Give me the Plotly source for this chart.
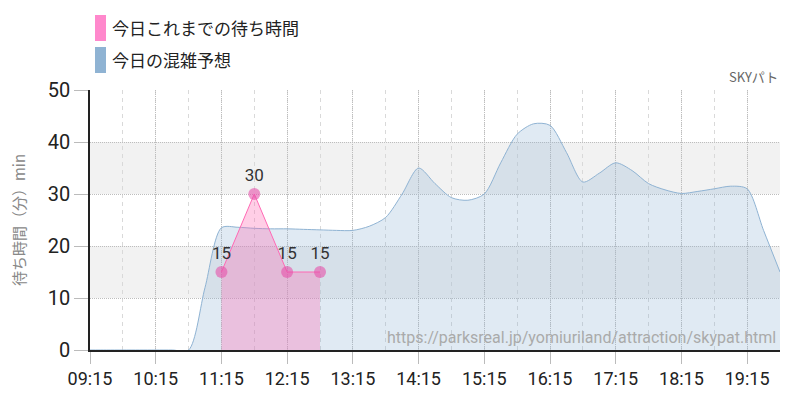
import plotly.graph_objects as go

DAY = "2024-01-01 "

# Forecast (blue) – 15-minute steps from 09:15 to 19:45
forecast_times = ["09:15", "09:30", "09:45", "10:00", "10:15", "10:30", "10:45", "11:00",
                  "11:15", "11:30", "11:45", "12:00", "12:15", "12:30", "12:45", "13:00",
                  "13:15", "13:30", "13:45", "14:00", "14:15", "14:30", "14:45", "15:00",
                  "15:15", "15:30", "15:45", "16:00", "16:15", "16:30", "16:45", "17:00",
                  "17:15", "17:30", "17:45", "18:00", "18:15", "18:30", "18:45", "19:00",
                  "19:15", "19:30", "19:45"]
forecast_values = [0, 0, 0, 0, 0, 0, 0, 12,
                   23.5, 23.6, 23.4, 23.3, 23.3, 23.2, 23.1, 23.0,
                   23.0, 23.8, 25.5, 30.0, 35.0, 32.0, 29.3, 28.8,
                   30.0, 36.0, 41.5, 43.5, 43.2, 38.0, 32.3, 34.0,
                   36.0, 34.5, 32.0, 30.8, 30.1, 30.5, 31.0, 31.5,
                   31.0, 23.0, 15.0]

# Actual wait times (pink)
actual_times = ["11:15", "11:45", "12:15", "12:45"]
actual_values = [15, 30, 15, 15]

y_ticks = [0, 10, 20, 30, 40, 50]
x_tick_labels = ["09:15", "10:15", "11:15", "12:15", "13:15", "14:15",
                 "15:15", "16:15", "17:15", "18:15", "19:15"]

legend_labels = ["今日これまでの待ち時間", "今日の混雑予想"]
legend_colors = ["#ff88cc", "#8fb3d3"]

NUM = "Roboto, sans-serif"
JP = "Noto Sans CJK JP, sans-serif"

# page has an 8px body margin; plot area wanted at page x 90..780, y 90..350
OFF = 8
L, T, PW, PH = 90 - OFF, 90 - OFF, 690, 260

fig = go.Figure()

fig.add_trace(go.Scatter(
    x=[DAY + t for t in forecast_times], y=forecast_values,
    mode="lines", line=dict(color="rgba(143,179,211,1)", width=1, shape="spline", smoothing=0.8),
    fill="tozeroy", fillcolor="rgba(143,179,211,0.28)", hoverinfo="skip", showlegend=False))

fig.add_trace(go.Scatter(
    x=[DAY + t for t in actual_times], y=actual_values,
    mode="lines+markers+text",
    line=dict(color="#ff69b4", width=1),
    fill="tozeroy", fillcolor="rgba(255,105,180,0.33)",
    marker=dict(color="rgba(230,80,170,0.6)", size=12),
    text=[str(v) for v in actual_values], textposition="top center",
    textfont=dict(family=NUM, size=17, color="#333"),
    cliponaxis=False, showlegend=False))

# background bands
shapes = []
for lo, hi in [(10, 20), (30, 40)]:
    shapes.append(dict(type="rect", xref="paper", yref="y", x0=0, x1=1, y0=lo, y1=hi,
                       fillcolor="#f2f2f2", line=dict(width=0), layer="below"))


def px_x(px):
    return (px - 90) / PW


def px_y(py):
    return (350 - py) / PH


annotations = []
# custom legend
for i, (lab, col) in enumerate(zip(legend_labels, legend_colors)):
    yc = 28 + 32 * i
    shapes.append(dict(type="rect", xref="paper", yref="paper",
                       x0=px_x(95), x1=px_x(106),
                       y0=px_y(yc + 13), y1=px_y(yc - 13),
                       fillcolor=col, line=dict(width=0)))
    annotations.append(dict(xref="paper", yref="paper", x=px_x(110), y=px_y(yc),
                            text=lab, showarrow=False, xanchor="left", yanchor="middle",
                            font=dict(family=JP, size=17, color="#222")))

annotations.append(dict(xref="paper", yref="paper", x=1, y=px_y(77), text="SKYパト",
                        showarrow=False, xanchor="right", yanchor="middle",
                        font=dict(family=JP, size=13, color="#666")))
annotations.append(dict(xref="paper", yref="paper", x=px_x(778), y=px_y(337),
                        text="https://parksreal.jp/yomiuriland/attraction/skypat.html",
                        showarrow=False, xanchor="right", yanchor="middle",
                        font=dict(family="Roboto, sans-serif", size=16, color="#aaa")))

fig.update_layout(
    width=800 - OFF, height=400 - OFF,
    margin=dict(l=L, r=800 - OFF - L - PW, t=T, b=400 - OFF - T - PH),
    plot_bgcolor="white", paper_bgcolor="white",
    shapes=shapes, annotations=annotations,
    showlegend=False,
    xaxis=dict(
        type="date",
        range=[DAY + "09:15", DAY + "19:45"],
        tickmode="array",
        tickvals=[DAY + t for t in x_tick_labels],
        ticktext=x_tick_labels,
        ticks="outside", ticklen=12, tickcolor="#bbb",
        tickfont=dict(family=NUM, size=18, color="#222"),
        showgrid=True, gridcolor="#bdbdbd", griddash="1px,1px", gridwidth=1,
        minor=dict(dtick=1800000, tick0=DAY + "09:45", showgrid=True,
                   gridcolor="#d9d9d9", griddash="4px,4px", gridwidth=1),
        showline=True, linecolor="#222", linewidth=1.5,
        zeroline=False, fixedrange=True, automargin=False,
    ),
    yaxis=dict(
        range=[0, 50],
        tickvals=y_ticks,
        ticks="outside", ticklen=14, tickcolor="#bbb",
        tickfont=dict(family=NUM, size=20, color="#222"),
        showgrid=True, gridcolor="#bdbdbd", griddash="1px,1px", gridwidth=1,
        showline=True, linecolor="#222", linewidth=1.5,
        zeroline=False, automargin=False,
        title=dict(text="待ち時間（分）min", font=dict(family=JP, size=15, color="#888"), standoff=22),
    ),
)

fig.write_html("out.html")
